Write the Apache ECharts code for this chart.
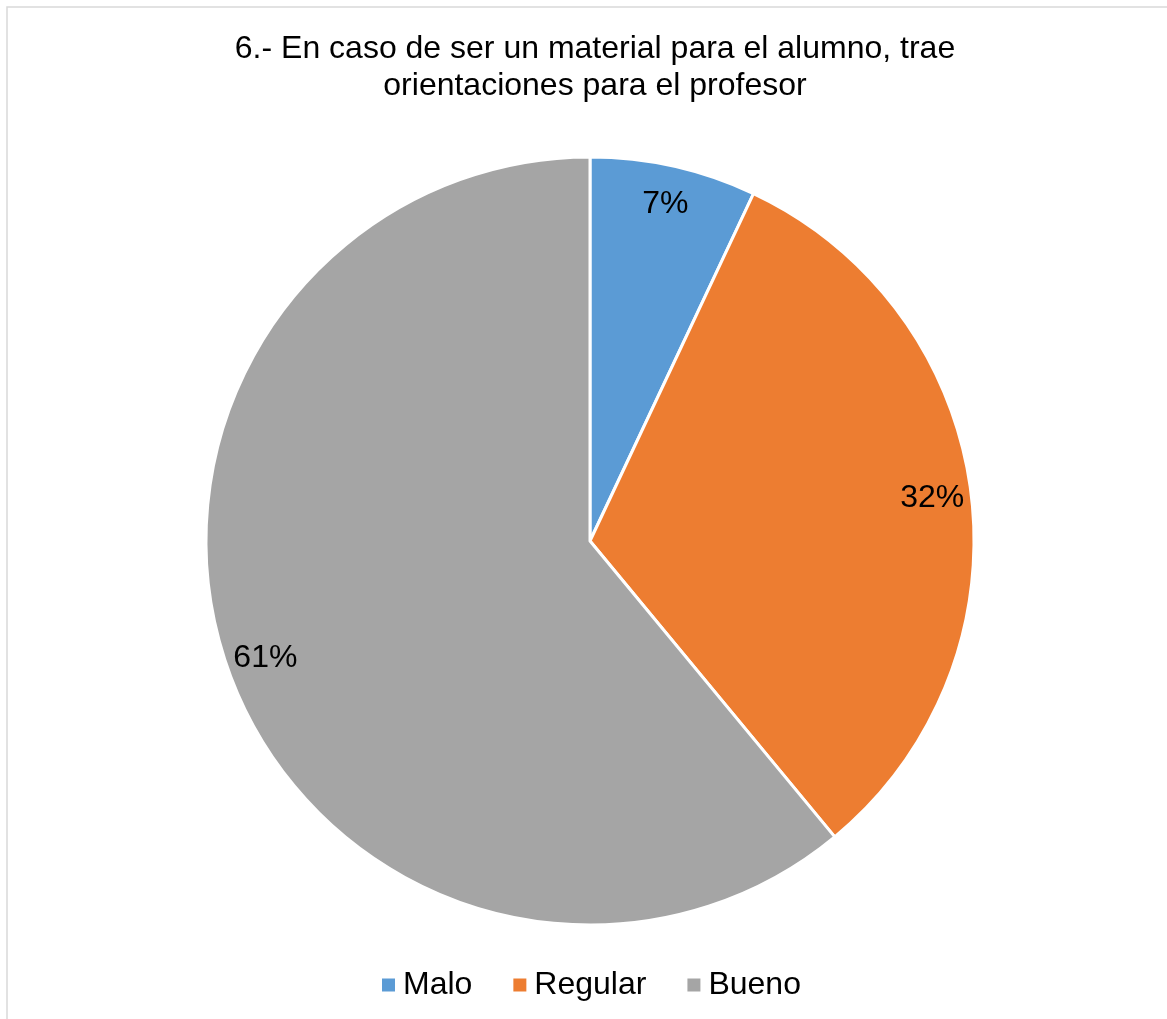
<!DOCTYPE html>
<html>
<head>
<meta charset="utf-8">
<title>Orientaciones para el profesor</title>
<script src="https://cdn.jsdelivr.net/npm/echarts@6/dist/echarts.min.js"></script>
<style>
  html, body { margin: 0; padding: 0; background: #ffffff; }
  #chart { width: 1167px; height: 1019px; }
</style>
</head>
<body>
<div id="chart"></div>
<script>
// Respuestas a la pregunta 6, en porcentaje
const categories = ['Malo', 'Regular', 'Bueno'];
const percentages = [7, 32, 61];
const colors = ['#5B9BD5', '#ED7D31', '#A5A5A5'];
const titleText = '6.- En caso de ser un material para el alumno, trae\norientaciones para el profesor';

const FONT = '"Liberation Sans", Arial, sans-serif';
const CX = 590, CY = 541, R = 384;

const pieData = categories.map((name, i) => ({
  name: name,
  value: percentages[i],
  itemStyle: { color: colors[i] }
}));

const chart = echarts.init(document.getElementById('chart'), null, { renderer: 'canvas' });

chart.setOption({
  backgroundColor: '#ffffff',
  animation: false,
  title: {
    text: titleText,
    left: CX,
    textAlign: 'center',
    top: 26,
    textStyle: {
      fontFamily: FONT,
      fontSize: 32,
      fontWeight: 'normal',
      color: '#000000',
      lineHeight: 37
    }
  },
  legend: {
    data: categories,
    left: CX,
    top: 964,
    itemWidth: 15,
    itemHeight: 15,
    itemGap: 39,
    icon: 'rect',
    textStyle: {
      fontFamily: FONT,
      fontSize: 32,
      color: '#000000',
      padding: [0, 0, 0, 2]
    }
  },
  graphic: [{
    type: 'rect',
    silent: true,
    shape: { x: 7, y: 7, width: 1300, height: 1200 },
    style: { fill: 'none', stroke: '#d9d9d9', lineWidth: 1.5 }
  }],
  series: [
    {
      type: 'pie',
      center: [CX, CY],
      radius: [0, R],
      startAngle: 90,
      clockwise: true,
      silent: true,
      label: { show: false },
      labelLine: { show: false },
      itemStyle: { borderColor: '#ffffff', borderWidth: 3 },
      data: pieData
    },
    {
      // ring used only to place the percentage labels near the rim
      type: 'pie',
      center: [CX, CY],
      radius: [Math.round(R * 0.78), R],
      startAngle: 90,
      clockwise: true,
      silent: true,
      legendHoverLink: false,
      itemStyle: { color: 'rgba(0,0,0,0)', borderWidth: 0 },
      label: {
        show: true,
        position: 'inside',
        formatter: '{c}%',
        fontFamily: FONT,
        fontSize: 32,
        color: '#000000'
      },
      labelLine: { show: false },
      data: categories.map((name, i) => ({ name: name, value: percentages[i] }))
    }
  ]
});

// centre the legend block on the pie's vertical axis
const legendView = chart.getViewOfComponentModel(chart.getModel().getComponent('legend'));
if (legendView && legendView.group) {
  const rect = legendView.group.getBoundingRect();
  chart.setOption({ legend: { left: Math.round(CX - rect.width / 2) } });
}
</script>
</body>
</html>
